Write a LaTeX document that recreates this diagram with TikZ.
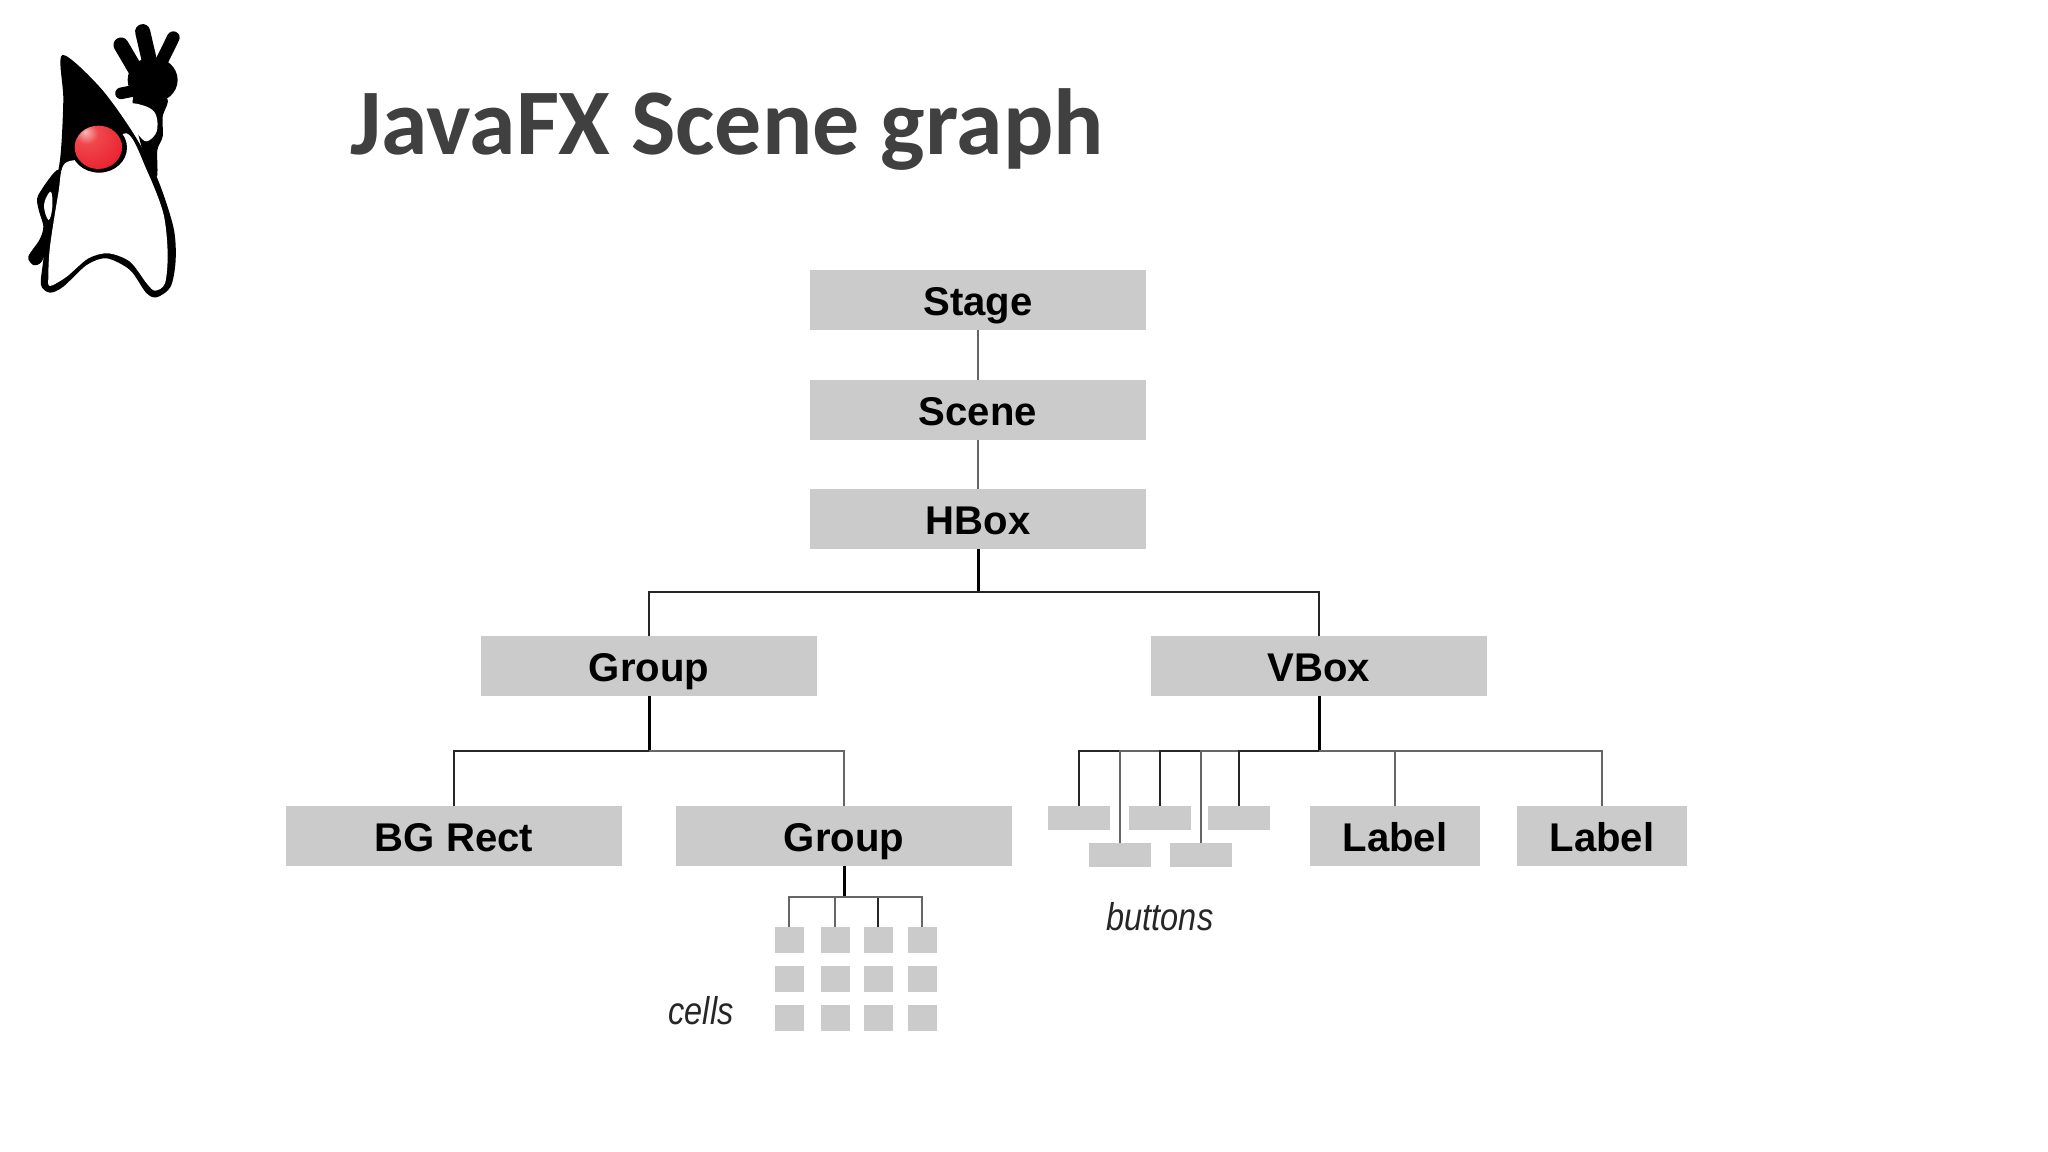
\documentclass[tikz,border=0pt]{standalone}
\usepackage{fontspec}
\setmainfont{Liberation Sans}
\newfontfamily\titlefont{Carlito}
\newfontfamily\squeezefont[FakeStretch=0.84]{Liberation Sans}
\definecolor{boxgray}{HTML}{CBCBCB}
\definecolor{titlegray}{HTML}{404040}
\definecolor{linegray}{HTML}{666666}
\pgfdeclareradialshading{noseball}{\pgfpoint{-14bp}{18bp}}{%
  rgb(0bp)=(0.97,0.72,0.72); rgb(12bp)=(0.94,0.28,0.30); rgb(40bp)=(0.91,0.13,0.18); rgb(62bp)=(0.78,0.08,0.12); rgb(100bp)=(0.78,0.08,0.12)}
\tikzset{
  grayfill/.style={fill=boxgray,inner sep=0pt,outer sep=0pt},
  bigbox/.style={grayfill,minimum width=3.36cm,minimum height=0.59cm,
    font=\fontsize{11.4}{12}\selectfont\bfseries,text height=8.7pt,text depth=0pt},
  labelbox/.style={bigbox,minimum width=1.70cm},
  btnbox/.style={grayfill,minimum width=0.62cm,minimum height=0.24cm},
  cellbox/.style={grayfill,minimum width=0.29cm,minimum height=0.255cm},
  wire/.style={line width=0.45pt,black!85},
  softwire/.style={line width=0.5pt,linegray},
  trunk/.style={line width=0.85pt,black},
  handwritten/.style={font=\squeezefont\fontsize{11}{12}\selectfont\itshape,text=black!85}
}
\begin{document}
\begin{tikzpicture}[x=0.01cm,y=-0.01cm]
    \useasboundingbox (0,0) rectangle (2048,1152);

    % --- Title ---
    \node[anchor=base west,inner sep=0pt,text=titlegray] (title) at (350,155)
        {\titlefont\bfseries\fontsize{26.7}{30}\selectfont JavaFX Scene graph};

    % --- Mascot (zoom coordinates) ---
    \begin{scope}[scale=1/3]
        % arm and hand
        \fill[black] plot[smooth cycle,tension=0.5] coordinates {(400,290) (500,295) (488,350) (488,410) (472,450) (470,530) (430,460)};
        \draw[line width=4.3pt,line cap=round] (363,135) -- (410,215);
        \draw[line width=4.3pt,line cap=round] (428,95) -- (450,190);
        \draw[line width=3.6pt,line cap=round] (520,113) -- (482,190);
        \draw[line width=3.3pt,line cap=round] (363,280) -- (440,265);
        \fill[black] (458,240) ellipse (75 and 68);
        % body
        \fill[black] plot[smooth cycle,tension=0.5] coordinates {(187,165) (300,262) (400,400) (470,530) (520,680) (527,780) (512,860) (470,892) (438,878) (390,810) (320,775) (260,795) (190,860) (150,878) (123,855) (130,780) (150,620) (180,480) (190,300)};
        % other arm
        \fill[black] plot[smooth cycle,tension=0.5] coordinates {(175,510) (115,585) (115,625) (130,680) (118,720) (85,770) (100,795) (125,785) (150,720) (165,640)};
        \fill[white] plot[smooth cycle,tension=0.7] coordinates {(152,575) (132,615) (146,660) (157,620)};
        \fill[white] plot[smooth cycle,tension=0.5] coordinates {(195,490) (290,470) (380,400) (440,510) (490,640) (503,760) (495,850) (465,872) (440,850) (390,785) (325,760) (265,775) (200,830) (150,858) (145,830) (150,740) (175,580)};
        \fill[white] plot[smooth cycle,tension=0.6] coordinates {(388,312) (440,320) (468,345) (470,395) (440,424) (412,400) (385,355)};
        % nose
        \fill[black] (297,443) ellipse (84 and 75);
        \shade[shading=noseball] (295,442) ellipse (71 and 65);
    \end{scope}

    % --- Boxes ---
    \node[bigbox] (stage) at (978,300) {Stage};
    \node[bigbox] (scene) at (978,410) {Scene};
    \node[bigbox] (hbox) at (978,519) {HBox};
    \node[bigbox] (groupA) at (649,666) {Group};
    \node[bigbox] (vbox) at (1319,666) {VBox};
    \node[bigbox] (bgrect) at (454,836) {BG Rect};
    \node[bigbox] (groupB) at (844,836) {Group};
    \node[labelbox] (labelA) at (1395,836) {Label};
    \node[labelbox] (labelB) at (1602,836) {Label};

    % --- Buttons ---
    \node[btnbox] (btnA) at (1079,818) {};
    \node[btnbox] (btnB) at (1120,855) {};
    \node[btnbox] (btnC) at (1160,818) {};
    \node[btnbox] (btnD) at (1201,855) {};
    \node[btnbox] (btnE) at (1239,818) {};
    \node[handwritten] (buttons) at (1160,917) {buttons};

    % --- Cells ---
    \foreach \col/\xpos in {1/789,2/835,3/878,4/922}
        \foreach \row/\ypos in {1/940,2/979,3/1018}
            \node[cellbox] (cell-\col-\row) at (\xpos,\ypos) {};
    \node[handwritten] (cells) at (701,1011) {cells};

    % --- Junctions ---
    \coordinate (barH) at (978,592);
    \coordinate (barG) at (649,751);
    \coordinate (barV) at (1319,751);
    \coordinate (barC) at (844,897);

    % --- Connectors ---
    \draw[softwire] (stage) -- (scene);
    \draw[softwire] (scene) -- (hbox);
    \draw[trunk] (hbox) -- (barH);
    \draw[wire] (groupA.north) |- (barH);
    \draw[wire] (vbox.north) |- (barH);

    \draw[trunk] (groupA) -- (barG);
    \draw[wire] (bgrect.north) |- (barG);
    \draw[softwire] (groupB.north) |- (barG);

    \draw[trunk] (vbox) -- (barV);
    \draw[wire] (btnA.north) |- (barV);
    \draw[softwire] (btnB.north) |- (barV);
    \draw[wire] (btnC.north) |- (barV);
    \draw[softwire] (btnD.north) |- (barV);
    \draw[wire] (btnE.north) |- (barV);
    \draw[softwire] (labelA.north) |- (barV);
    \draw[softwire] (labelB.north) |- (barV);

    \draw[trunk] (groupB) -- (barC);
    \draw[softwire] (cell-1-1.north) |- (barC);
    \draw[softwire] (cell-2-1.north) |- (barC);
    \draw[wire] (cell-3-1.north) |- (barC);
    \draw[softwire] (cell-4-1.north) |- (barC);

\end{tikzpicture}
\end{document}
